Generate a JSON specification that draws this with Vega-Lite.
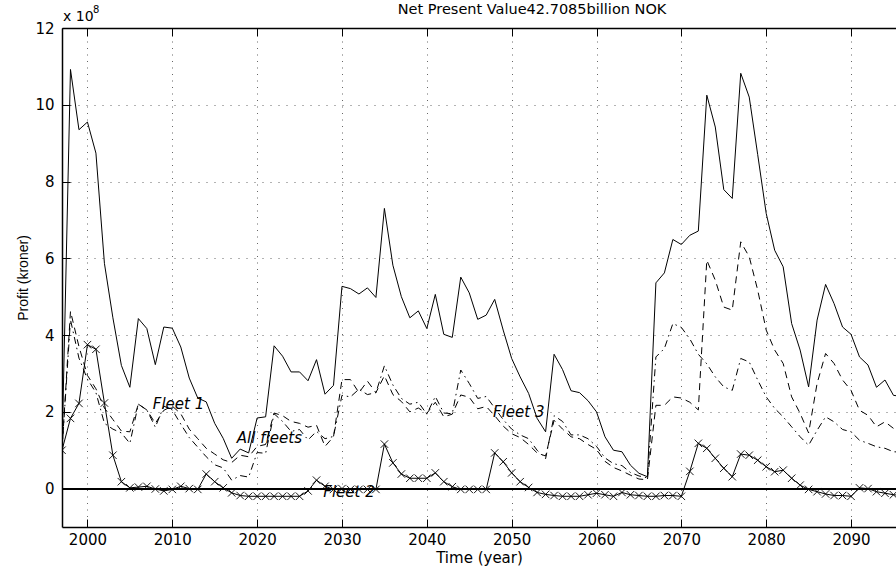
{
  "$schema": "https://vega.github.io/schema/vega-lite/v6.json",
  "width": 834,
  "height": 499,
  "autosize": "none",
  "padding": {"left": 62, "top": 28, "right": 0, "bottom": 44},
  "background": "white",
  "config": {
    "view": {"stroke": null},
    "font": "DejaVu Sans",
    "axis": {
      "labelFont": "DejaVu Sans",
      "labelFontSize": 15,
      "labelColor": "black",
      "titleFont": "DejaVu Sans",
      "titleFontSize": 15,
      "titleFontWeight": "normal",
      "titleColor": "black",
      "domainColor": "black",
      "domainWidth": 1.5,
      "tickColor": "black",
      "tickWidth": 1,
      "gridColor": "black",
      "gridOpacity": 0.6,
      "gridWidth": 1
    }
  },
  "datasets": {
    "profit": [
      {"year": 1997, "all": 1.0, "f1": 1.0, "f2": 1.0, "f3": 1.0},
      {"year": 1998, "all": 10.92, "f1": 4.62, "f2": 1.83, "f3": 4.4},
      {"year": 1999, "all": 9.35, "f1": 3.7, "f2": 2.22, "f3": 3.4},
      {"year": 2000, "all": 9.55, "f1": 2.95, "f2": 3.75, "f3": 2.85},
      {"year": 2001, "all": 8.74, "f1": 2.6, "f2": 3.63, "f3": 2.5},
      {"year": 2002, "all": 5.87, "f1": 2.1, "f2": 2.23, "f3": 1.7},
      {"year": 2003, "all": 4.45, "f1": 1.8, "f2": 0.87, "f3": 1.55},
      {"year": 2004, "all": 3.21, "f1": 1.5, "f2": 0.18, "f3": 1.45},
      {"year": 2005, "all": 2.64, "f1": 1.48, "f2": 0.02, "f3": 1.18},
      {"year": 2006, "all": 4.43, "f1": 2.2, "f2": 0.04, "f3": 2.2},
      {"year": 2007, "all": 4.17, "f1": 2.05, "f2": 0.06, "f3": 2.05},
      {"year": 2008, "all": 3.23, "f1": 1.7, "f2": -0.01, "f3": 1.6},
      {"year": 2009, "all": 4.21, "f1": 2.04, "f2": -0.06, "f3": 2.15},
      {"year": 2010, "all": 4.18, "f1": 2.15, "f2": -0.02, "f3": 2.05},
      {"year": 2011, "all": 3.69, "f1": 1.95, "f2": 0.06, "f3": 1.68},
      {"year": 2012, "all": 2.88, "f1": 1.55, "f2": 0.0, "f3": 1.33},
      {"year": 2013, "all": 2.36, "f1": 1.3, "f2": -0.02, "f3": 1.08},
      {"year": 2014, "all": 2.26, "f1": 1.05, "f2": 0.38, "f3": 0.83},
      {"year": 2015, "all": 1.7, "f1": 0.9, "f2": 0.18, "f3": 0.62},
      {"year": 2016, "all": 1.31, "f1": 0.75, "f2": 0.02, "f3": 0.54},
      {"year": 2017, "all": 0.79, "f1": 0.68, "f2": -0.11, "f3": 0.22},
      {"year": 2018, "all": 1.03, "f1": 0.87, "f2": -0.18, "f3": 0.34},
      {"year": 2019, "all": 0.93, "f1": 0.83, "f2": -0.2, "f3": 0.3},
      {"year": 2020, "all": 1.84, "f1": 1.1, "f2": -0.2, "f3": 0.94},
      {"year": 2021, "all": 1.87, "f1": 1.15, "f2": -0.2, "f3": 0.92},
      {"year": 2022, "all": 3.72, "f1": 1.97, "f2": -0.2, "f3": 1.95},
      {"year": 2023, "all": 3.45, "f1": 1.9, "f2": -0.2, "f3": 1.75},
      {"year": 2024, "all": 3.04, "f1": 1.75, "f2": -0.2, "f3": 1.49},
      {"year": 2025, "all": 3.04, "f1": 1.7, "f2": -0.2, "f3": 1.54},
      {"year": 2026, "all": 2.81, "f1": 1.6, "f2": -0.06, "f3": 1.27},
      {"year": 2027, "all": 3.36, "f1": 1.65, "f2": 0.22, "f3": 1.49},
      {"year": 2028, "all": 2.46, "f1": 1.1, "f2": 0.06, "f3": 1.3},
      {"year": 2029, "all": 2.69, "f1": 1.35, "f2": -0.02, "f3": 1.36},
      {"year": 2030, "all": 5.27, "f1": 2.84, "f2": 0.0, "f3": 2.43},
      {"year": 2031, "all": 5.21, "f1": 2.84, "f2": -0.02, "f3": 2.39},
      {"year": 2032, "all": 5.07, "f1": 2.5, "f2": -0.02, "f3": 2.59},
      {"year": 2033, "all": 5.23, "f1": 2.8, "f2": -0.02, "f3": 2.45},
      {"year": 2034, "all": 4.98, "f1": 2.5, "f2": -0.02, "f3": 2.5},
      {"year": 2035, "all": 7.3, "f1": 2.94, "f2": 1.16, "f3": 3.2},
      {"year": 2036, "all": 5.82, "f1": 2.45, "f2": 0.67, "f3": 2.7},
      {"year": 2037, "all": 5.0, "f1": 2.27, "f2": 0.38, "f3": 2.35},
      {"year": 2038, "all": 4.45, "f1": 2.0, "f2": 0.27, "f3": 2.2},
      {"year": 2039, "all": 4.63, "f1": 2.1, "f2": 0.27, "f3": 2.25},
      {"year": 2040, "all": 4.17, "f1": 1.96, "f2": 0.27, "f3": 1.94},
      {"year": 2041, "all": 5.06, "f1": 2.25, "f2": 0.41, "f3": 2.4},
      {"year": 2042, "all": 4.02, "f1": 1.87, "f2": 0.18, "f3": 1.97},
      {"year": 2043, "all": 3.94, "f1": 1.94, "f2": 0.05, "f3": 1.95},
      {"year": 2044, "all": 5.51, "f1": 2.44, "f2": -0.02, "f3": 3.09},
      {"year": 2045, "all": 5.1, "f1": 2.38, "f2": -0.02, "f3": 2.74},
      {"year": 2046, "all": 4.41, "f1": 2.08, "f2": -0.02, "f3": 2.35},
      {"year": 2047, "all": 4.52, "f1": 2.14, "f2": -0.02, "f3": 2.4},
      {"year": 2048, "all": 4.93, "f1": 1.9, "f2": 0.93, "f3": 2.1},
      {"year": 2049, "all": 4.13, "f1": 1.63, "f2": 0.7, "f3": 1.8},
      {"year": 2050, "all": 3.39, "f1": 1.43, "f2": 0.41, "f3": 1.55},
      {"year": 2051, "all": 2.91, "f1": 1.33, "f2": 0.18, "f3": 1.4},
      {"year": 2052, "all": 2.48, "f1": 1.15, "f2": 0.03, "f3": 1.3},
      {"year": 2053, "all": 1.83, "f1": 0.93, "f2": -0.1, "f3": 1.0},
      {"year": 2054, "all": 1.48, "f1": 0.85, "f2": -0.15, "f3": 0.78},
      {"year": 2055, "all": 3.5, "f1": 1.78, "f2": -0.18, "f3": 1.9},
      {"year": 2056, "all": 3.1, "f1": 1.55, "f2": -0.2, "f3": 1.75},
      {"year": 2057, "all": 2.55, "f1": 1.35, "f2": -0.2, "f3": 1.4},
      {"year": 2058, "all": 2.5, "f1": 1.3, "f2": -0.2, "f3": 1.4},
      {"year": 2059, "all": 2.29, "f1": 1.15, "f2": -0.16, "f3": 1.3},
      {"year": 2060, "all": 2.0, "f1": 1.02, "f2": -0.12, "f3": 1.1},
      {"year": 2061, "all": 1.35, "f1": 0.71, "f2": -0.16, "f3": 0.8},
      {"year": 2062, "all": 1.0, "f1": 0.55, "f2": -0.2, "f3": 0.65},
      {"year": 2063, "all": 0.96, "f1": 0.46, "f2": -0.1, "f3": 0.6},
      {"year": 2064, "all": 0.61, "f1": 0.35, "f2": -0.16, "f3": 0.42},
      {"year": 2065, "all": 0.4, "f1": 0.25, "f2": -0.18, "f3": 0.33},
      {"year": 2066, "all": 0.31, "f1": 0.23, "f2": -0.2, "f3": 0.28},
      {"year": 2067, "all": 5.36, "f1": 2.17, "f2": -0.2, "f3": 3.43},
      {"year": 2068, "all": 5.62, "f1": 2.17, "f2": -0.18, "f3": 3.65},
      {"year": 2069, "all": 6.49, "f1": 2.39, "f2": -0.18, "f3": 4.3},
      {"year": 2070, "all": 6.36, "f1": 2.36, "f2": -0.2, "f3": 4.2},
      {"year": 2071, "all": 6.6, "f1": 2.25, "f2": 0.45, "f3": 3.9},
      {"year": 2072, "all": 6.71, "f1": 2.05, "f2": 1.18, "f3": 3.5},
      {"year": 2073, "all": 10.25, "f1": 5.95, "f2": 1.05, "f3": 3.25},
      {"year": 2074, "all": 9.42, "f1": 5.43, "f2": 0.79, "f3": 2.91},
      {"year": 2075, "all": 7.79, "f1": 4.73, "f2": 0.53, "f3": 2.65},
      {"year": 2076, "all": 7.56, "f1": 4.65, "f2": 0.31, "f3": 2.56},
      {"year": 2077, "all": 10.82, "f1": 6.43, "f2": 0.9, "f3": 3.39},
      {"year": 2078, "all": 10.2, "f1": 6.04, "f2": 0.87, "f3": 3.3},
      {"year": 2079, "all": 8.7, "f1": 5.17, "f2": 0.74, "f3": 2.83},
      {"year": 2080, "all": 7.17, "f1": 4.13, "f2": 0.57, "f3": 2.39},
      {"year": 2081, "all": 6.21, "f1": 3.61, "f2": 0.44, "f3": 2.09},
      {"year": 2082, "all": 5.78, "f1": 3.26, "f2": 0.48, "f3": 1.87},
      {"year": 2083, "all": 4.3, "f1": 2.39, "f2": 0.27, "f3": 1.61},
      {"year": 2084, "all": 3.61, "f1": 1.96, "f2": 0.09, "f3": 1.35},
      {"year": 2085, "all": 2.65, "f1": 1.45, "f2": -0.02, "f3": 1.13},
      {"year": 2086, "all": 4.39, "f1": 2.74, "f2": -0.08, "f3": 1.52},
      {"year": 2087, "all": 5.32, "f1": 3.52, "f2": -0.14, "f3": 1.87},
      {"year": 2088, "all": 4.82, "f1": 3.26, "f2": -0.18, "f3": 1.74},
      {"year": 2089, "all": 4.21, "f1": 2.83, "f2": -0.18, "f3": 1.54},
      {"year": 2090, "all": 4.02, "f1": 2.56, "f2": -0.2, "f3": 1.48},
      {"year": 2091, "all": 3.43, "f1": 2.04, "f2": 0.02, "f3": 1.26},
      {"year": 2092, "all": 3.22, "f1": 1.91, "f2": 0.0, "f3": 1.18},
      {"year": 2093, "all": 2.64, "f1": 1.61, "f2": -0.08, "f3": 1.09},
      {"year": 2094, "all": 2.83, "f1": 1.74, "f2": -0.12, "f3": 1.05},
      {"year": 2095, "all": 2.43, "f1": 1.57, "f2": -0.16, "f3": 0.96},
      {"year": 2096, "all": 2.4, "f1": 1.55, "f2": -0.18, "f3": 0.95}
    ],
    "labels": [
      {"label": "Fleet 1", "year": 2007.7, "value": 2.07},
      {"label": "All fleets", "year": 2017.6, "value": 1.19},
      {"label": "Fleet 3", "year": 2047.8, "value": 1.87},
      {"label": "Fleet 2", "year": 2027.8, "value": -0.21}
    ],
    "single": [{}]
  },
  "data": {"name": "profit"},
  "resolve": {"axis": {"x": "independent"}},
  "layer": [
    {
      "mark": {"type": "rule", "color": "black", "strokeWidth": 1},
      "encoding": {"y": {"datum": 0}}
    },
    {
      "mark": {"type": "line", "color": "black", "strokeWidth": 1, "clip": true},
      "encoding": {
        "x": {
          "field": "year", "type": "quantitative",
          "scale": {"domain": [1997, 2095.3], "nice": false, "zero": false},
          "axis": {
            "values": [2000, 2010, 2020, 2030, 2040, 2050, 2060, 2070, 2080, 2090],
            "format": "d",
            "title": "Time (year)",
            "grid": true,
            "gridDash": [1, 5.5],
            "tickSize": -8,
            "labelPadding": 13,
            "titlePadding": 3
          }
        },
        "y": {
          "field": "all", "type": "quantitative",
          "scale": {"domain": [-1, 12], "nice": false, "zero": false},
          "axis": {
            "values": [0, 2, 4, 6, 8, 10, 12],
            "title": "Profit (kroner)",
            "titleFont": "Liberation Sans",
            "titleFontSize": 14,
            "grid": true,
            "gridDash": [1, 7],
            "tickSize": -8,
            "labelPadding": 16,
            "titlePadding": 4
          }
        }
      }
    },
    {
      "mark": {"type": "line", "color": "black", "strokeWidth": 1, "strokeDash": [7, 5], "clip": true},
      "encoding": {
        "x": {"field": "year", "type": "quantitative", "axis": null},
        "y": {"field": "f1", "type": "quantitative"}
      }
    },
    {
      "mark": {"type": "line", "color": "black", "strokeWidth": 1, "strokeDash": [7, 4, 1.5, 4], "clip": true},
      "encoding": {
        "x": {"field": "year", "type": "quantitative", "axis": null},
        "y": {"field": "f3", "type": "quantitative"}
      }
    },
    {
      "mark": {"type": "line", "color": "black", "strokeWidth": 1, "clip": true},
      "encoding": {
        "x": {"field": "year", "type": "quantitative", "axis": null},
        "y": {"field": "f2", "type": "quantitative"}
      }
    },
    {
      "mark": {
        "type": "point",
        "shape": "M-1,-1L1,1M-1,1L1,-1",
        "size": 56,
        "filled": false,
        "color": "black",
        "strokeWidth": 0.9,
        "opacity": 1,
        "clip": true
      },
      "encoding": {
        "x": {
          "field": "year", "type": "quantitative",
          "axis": {
            "orient": "top",
            "values": [2000, 2010, 2020, 2030, 2040, 2050, 2060, 2070, 2080, 2090],
            "labels": false,
            "title": null,
            "grid": false,
            "tickSize": -8
          }
        },
        "y": {"field": "f2", "type": "quantitative"}
      }
    },
    {
      "data": {"name": "labels"},
      "mark": {
        "type": "text",
        "font": "DejaVu Sans",
        "fontSize": 15,
        "fontStyle": "italic",
        "align": "left",
        "baseline": "alphabetic",
        "color": "black"
      },
      "encoding": {
        "x": {"field": "year", "type": "quantitative", "axis": null},
        "y": {"field": "value", "type": "quantitative"},
        "text": {"field": "label"}
      }
    },
    {
      "data": {"name": "single"},
      "mark": {
        "type": "text",
        "text": "Net Present Value42.7085billion NOK",
        "font": "DejaVu Sans",
        "fontSize": 14.5,
        "align": "center",
        "baseline": "middle",
        "color": "black",
        "dy": -18
      },
      "encoding": {
        "x": {"datum": 2052.4, "type": "quantitative", "axis": null},
        "y": {"datum": 12, "type": "quantitative"}
      }
    },
    {
      "data": {"name": "single"},
      "mark": {
        "type": "text",
        "text": "x 10",
        "font": "DejaVu Sans",
        "fontSize": 14,
        "align": "left",
        "baseline": "alphabetic",
        "color": "black",
        "dx": 1,
        "dy": -7
      },
      "encoding": {
        "x": {"datum": 1997, "type": "quantitative", "axis": null},
        "y": {"datum": 12, "type": "quantitative"}
      }
    },
    {
      "data": {"name": "single"},
      "mark": {
        "type": "text",
        "text": "8",
        "font": "DejaVu Sans",
        "fontSize": 10,
        "align": "left",
        "baseline": "alphabetic",
        "color": "black",
        "dx": 31,
        "dy": -15
      },
      "encoding": {
        "x": {"datum": 1997, "type": "quantitative", "axis": null},
        "y": {"datum": 12, "type": "quantitative"}
      }
    }
  ]
}
